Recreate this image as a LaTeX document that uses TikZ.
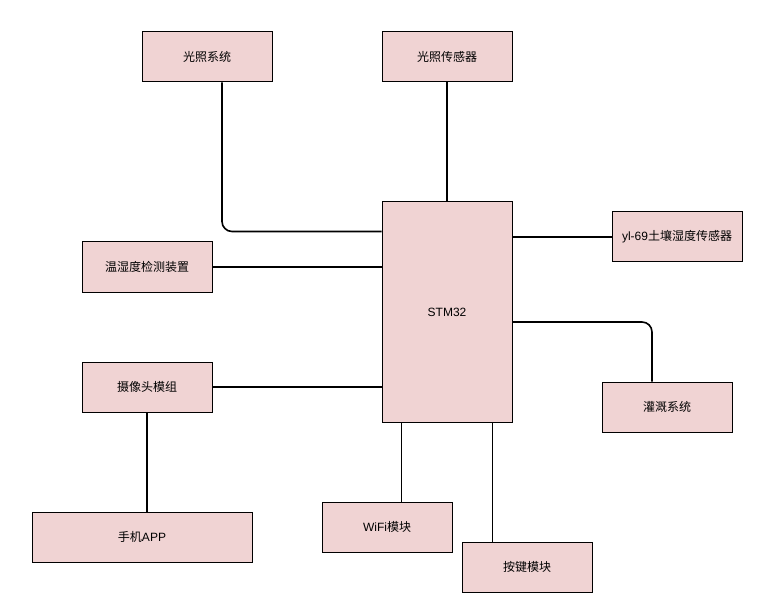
\documentclass[tikz,border=0pt]{standalone}
\usepackage{fontspec}
\setmainfont{Liberation Sans}
\newfontfamily\cjk{Noto Sans CJK SC}
\usepackage{tikz}
\usetikzlibrary{calc}
\definecolor{boxfill}{RGB}{240,211,211}
\tikzset{
  blk/.style={draw, line width=0.75pt, fill=boxfill, minimum width=97.5pt, minimum height=37.5pt, inner sep=0pt, font=\fontsize{9}{11}\selectfont},
  wire/.style={line width=1.2pt, rounded corners=7.5pt}
}
\begin{document}
\begin{tikzpicture}[x=0.75pt,y=0.75pt,yscale=-1,xscale=1]
        \useasboundingbox (0,0) rectangle (759,609);
        % boxes
        \node [blk] (guangxt) at (207,57) {\cjk 光照系统};
        \node [blk] (guangcgq) at (447,57) {\cjk 光照传感器};
        \node [blk, minimum height=165pt] (stm) at (447,312) {STM32};
        \node [blk] (yl) at (677,237) {yl-69{\cjk 土壤湿度传感器}};
        \node [blk] (wsd) at (147,267) {\cjk 温湿度检测装置};
        \node [blk] (gg) at (667,407) {\cjk 灌溉系统};
        \node [blk] (sxt) at (147,387) {\cjk 摄像头模组};
        \node [blk, minimum width=165pt] (app) at (142,537) {{\cjk 手机}APP};
        \node [blk] (wifi) at (387,527) {WiFi{\cjk 模块}};
        \node [blk] (aj) at (527,567) {\cjk 按键模块};

        % link ends off centre
        \coordinate (gxtout) at ($(guangxt.south)+(15,0)$);
        \coordinate (stmin) at ($(stm.north west)+(0,30)$);
        \coordinate (stmout) at ($(stm.east)+(0,10)$);
        \coordinate (ggin) at ($(gg.north)+(-15,0)$);
        \coordinate (wifiout) at ($(stm.south west)+(20,0)$);
        \coordinate (ajout) at ($(stm.south east)+(-20,0)$);

        % links
        \draw [wire] (gxtout) |- (stmin);
        \draw [wire] (guangcgq.south) -- (stm.north);
        \draw [wire] (stm.east |- yl.west) -- (yl.west);
        \draw [wire] (wsd.east) -- (wsd.east -| stm.west);
        \draw [wire] (stmout) -| (ggin);
        \draw [wire] (sxt.east) -- (sxt.east -| stm.west);
        \draw [wire] (sxt.south) -- (sxt.south |- app.north);
        \draw [wire] (wifiout) -- (wifiout |- wifi.north);
        \draw [wire] (ajout) -- (ajout |- aj.north);
\end{tikzpicture}
\end{document}
